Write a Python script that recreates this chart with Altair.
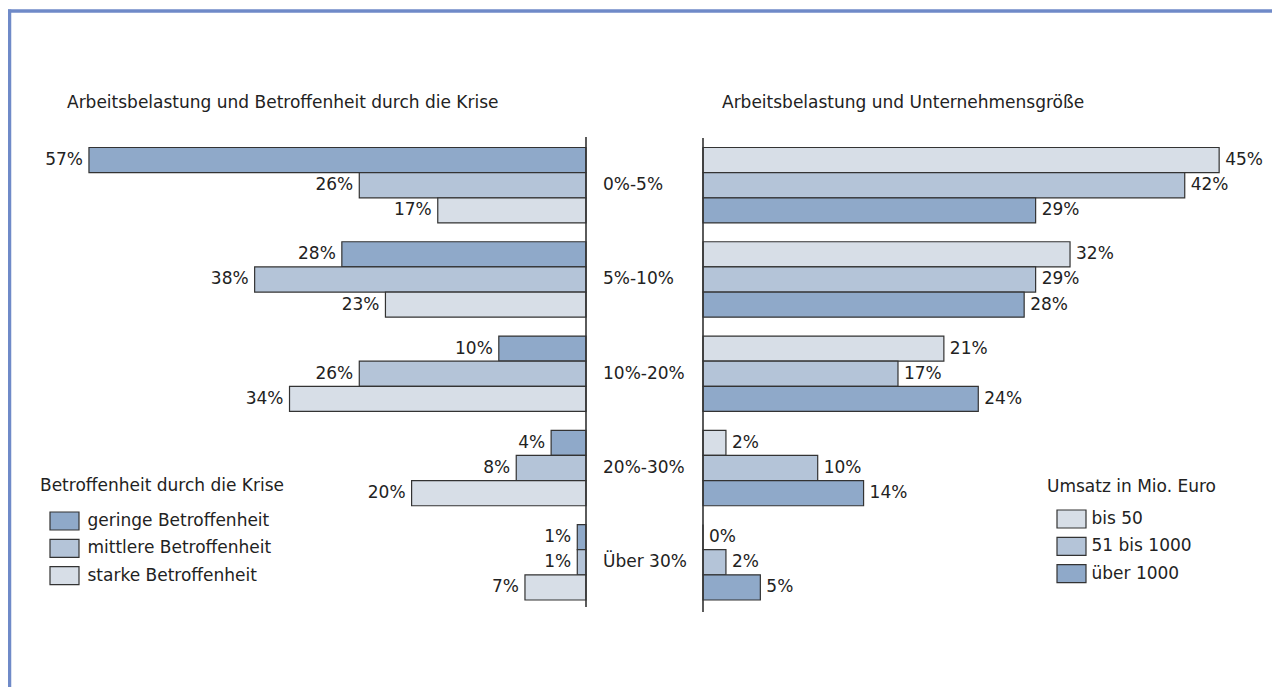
import altair as alt
import pandas as pd

# ---------------- data ----------------
groups = ["0%-5%", "5%-10%", "10%-20%", "20%-30%", "Über 30%"]

left_title = "Arbeitsbelastung und Betroffenheit durch die Krise"
left_series = ["geringe Betroffenheit", "mittlere Betroffenheit", "starke Betroffenheit"]
left_geringe = [57, 28, 10, 4, 1]
left_mittlere = [26, 38, 26, 8, 1]
left_starke = [17, 23, 34, 20, 7]
left_legend_title = "Betroffenheit durch die Krise"

right_title = "Arbeitsbelastung und Unternehmensgröße"
right_series = ["bis 50", "51 bis 1000", "über 1000"]
right_bis50 = [45, 32, 21, 2, 0]
right_51_1000 = [42, 29, 17, 10, 2]
right_ueber1000 = [29, 28, 24, 14, 5]
right_legend_title = "Umsatz in Mio. Euro"

# ---------------- styles ----------------
DARK, MID, LIGHT = "#8FA9C9", "#B4C4D8", "#D7DEE7"
left_colors = [DARK, MID, LIGHT]
right_colors = [LIGHT, MID, DARK]
FONT = "DejaVu Sans"
FS = 17
TXT = "#222222"
EDGE = "#333333"
FRAME = "#6F8AC8"
SYMBOL = "M-1.611,-1H1.611V1H-1.611Z"


def build(series, arrays):
    rows = []
    for k, (s, vals) in enumerate(zip(series, arrays)):
        for g, v in zip(groups, vals):
            rows.append({"group": g, "k": k, "serie": s, "value": v, "label": f"{v}%"})
    return pd.DataFrame(rows)


left_df = build(left_series, [left_geringe, left_mittlere, left_starke])
right_df = build(right_series, [right_bis50, right_51_1000, right_ueber1000])

W, H = 1264, 679

yscale = alt.Scale(domain=groups, range=[139.5, 592], paddingInner=0.2, paddingOuter=0)
oscale = alt.Scale(domain=[0, 1, 2], paddingInner=0, paddingOuter=0)
lx = alt.Scale(domain=[0, 60], range=[578, 578 - 60 * 8.72], nice=False, zero=True)
rx = alt.Scale(domain=[0, 48], range=[695, 695 + 48 * 11.47], nice=False, zero=True)

Y = alt.Y("group:N", scale=yscale, axis=None)
YO = alt.YOffset("k:O", scale=oscale)


def legend(title, x, y, lab_off, tpad):
    return alt.Legend(
        title=title, orient="none", legendX=x, legendY=y, direction="vertical",
        symbolType=SYMBOL, symbolSize=324, symbolStrokeColor=EDGE, symbolStrokeWidth=1.2,
        symbolOpacity=1, symbolOffset=14.5, labelOffset=lab_off, rowPadding=3.3,
        titlePadding=tpad, titleFont=FONT, titleFontSize=FS, titleFontWeight="normal",
        titleColor=TXT, labelFont=FONT, labelFontSize=FS, labelColor=TXT,
        labelLimit=400, titleLimit=400,
    )


# left panel
lbars = alt.Chart(left_df).mark_bar(stroke=EDGE, strokeWidth=1.2).encode(
    x=alt.X("value:Q", scale=lx, axis=None),
    y=Y, yOffset=YO,
    color=alt.Color("serie:N", scale=alt.Scale(domain=left_series, range=left_colors),
                    legend=legend(left_legend_title, 32, 470, 13, 16)),
)
ltext = alt.Chart(left_df).mark_text(align="right", baseline="middle", dx=-6,
                                     font=FONT, fontSize=FS, color=TXT).encode(
    x=alt.X("value:Q", scale=lx, axis=None), y=Y, yOffset=YO, text="label:N")
lrule = alt.Chart(pd.DataFrame({"v": [0]})).mark_rule(color=EDGE, strokeWidth=1.6).encode(
    x=alt.X("v:Q", scale=lx, axis=None), y=alt.value(129), y2=alt.value(599))
left = alt.layer(lbars, ltext, lrule)

# right panel
rbars = alt.Chart(right_df).mark_bar(stroke=EDGE, strokeWidth=1.2).encode(
    x=alt.X("value:Q", scale=rx, axis=None),
    y=Y, yOffset=YO,
    color=alt.Color("serie:N", scale=alt.Scale(domain=right_series, range=right_colors),
                    legend=legend(right_legend_title, 1039, 471, 10, 13)),
)
rtext = alt.Chart(right_df).mark_text(align="left", baseline="middle", dx=6,
                                      font=FONT, fontSize=FS, color=TXT).encode(
    x=alt.X("value:Q", scale=rx, axis=None), y=Y, yOffset=YO, text="label:N")
rrule = alt.Chart(pd.DataFrame({"v": [0]})).mark_rule(color=EDGE, strokeWidth=1.6).encode(
    x=alt.X("v:Q", scale=rx, axis=None), y=alt.value(130), y2=alt.value(604))
right = alt.layer(rbars, rtext, rrule)

# center category labels
center = alt.Chart(pd.DataFrame({"group": groups})).mark_text(
    align="left", baseline="middle", font=FONT, fontSize=FS, color=TXT).encode(
    x=alt.value(595), y=Y, text="group:N")

# panel titles
t1 = alt.Chart(pd.DataFrame({"t": [left_title]})).mark_text(
    align="left", baseline="middle", font=FONT, fontSize=FS, color=TXT).encode(
    x=alt.value(59), y=alt.value(95), text="t:N")
t2 = alt.Chart(pd.DataFrame({"t": [right_title]})).mark_text(
    align="left", baseline="middle", font=FONT, fontSize=FS, color=TXT).encode(
    x=alt.value(714), y=alt.value(95), text="t:N")

# frame (top and left edges)
ftop = alt.Chart(pd.DataFrame({"a": [0]})).mark_rule(color=FRAME, strokeWidth=3.5).encode(
    x=alt.value(0), x2=alt.value(W), y=alt.value(3))
fleft = alt.Chart(pd.DataFrame({"a": [0]})).mark_rule(color=FRAME, strokeWidth=3.5).encode(
    x=alt.value(1.5), y=alt.value(1.5), y2=alt.value(H))

chart = alt.layer(ftop, fleft, t1, t2, center, left, right).resolve_scale(
    x="independent", color="independent"
).properties(
    width=W, height=H, padding=0, autosize=alt.AutoSizeParams(type="none"),
    background="white",
).configure_view(stroke=None)

chart.save("out.html", embed_options={"renderer": "svg", "actions": False})
